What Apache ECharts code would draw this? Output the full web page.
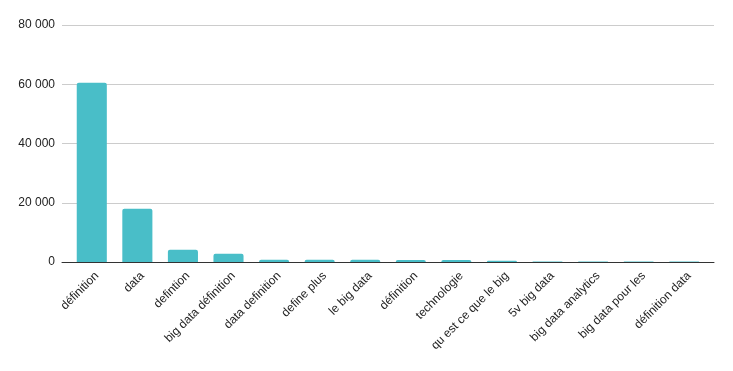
<!DOCTYPE html>
<html><head><meta charset="utf-8">
<script src="https://cdn.jsdelivr.net/npm/echarts@6/dist/echarts.min.js"></script>
<style>html,body{margin:0;padding:0;background:#fff}#c{width:733px;height:371px}</style>
</head><body><div id="c"></div>
<script>
const categories = ["définition","data","defintion","big data définition","data definition","define plus","le big data","définition","technologie","qu est ce que le big","5v big data","big data analytics","big data pour les","définition data"];
const values = [60500,18000,4100,2800,800,750,750,700,700,450,150,150,150,150];
const yTicks = [0,20000,40000,60000,80000];

const font = 'Liberation Sans, Arial, sans-serif';
const chart = echarts.init(document.getElementById('c'));
chart.setOption({
  animation:false,
  grid:[
    {left:62,right:19,top:25,bottom:109,containLabel:false},
    {left:69,right:26,top:25,bottom:109,containLabel:false},
    {left:74,right:21,top:25,bottom:109,containLabel:false}
  ],
  xAxis:[
    {type:'value',gridIndex:0,min:0,max:1,
      axisLine:{show:true,onZero:false,lineStyle:{color:'#333',width:1}},
      axisTick:{show:false},axisLabel:{show:false},splitLine:{show:false}},
    {type:'category',gridIndex:1,data:categories,
      axisTick:{show:false},axisLine:{show:false},axisLabel:{show:false}},
    {type:'category',gridIndex:2,data:categories,
      axisTick:{show:false},axisLine:{show:false},
      axisLabel:{rotate:45,interval:0,color:'#222',fontSize:12,fontFamily:font,margin:12}}
  ],
  yAxis:[
    {type:'value',gridIndex:0,min:yTicks[0],max:yTicks[yTicks.length-1],interval:20000,
      axisLine:{show:false},axisTick:{show:false},
      splitLine:{lineStyle:{color:'#ccc'}},
      axisLabel:{color:'#222',fontSize:12,fontFamily:font,margin:7,
        formatter:v=>String(v).replace(/\B(?=(\d{3})+(?!\d))/g,' ')}},
    {type:'value',gridIndex:1,min:yTicks[0],max:yTicks[yTicks.length-1],interval:20000,
      show:false,splitLine:{show:false}},
    {type:'value',gridIndex:2,min:yTicks[0],max:yTicks[yTicks.length-1],interval:20000,
      show:false,splitLine:{show:false}}
  ],
  series:[{type:'bar',xAxisIndex:1,yAxisIndex:1,data:values,barWidth:'66%',z:1,
    itemStyle:{color:'#49BEC8',borderRadius:[2,2,0,0]}}]
});
</script></body></html>
